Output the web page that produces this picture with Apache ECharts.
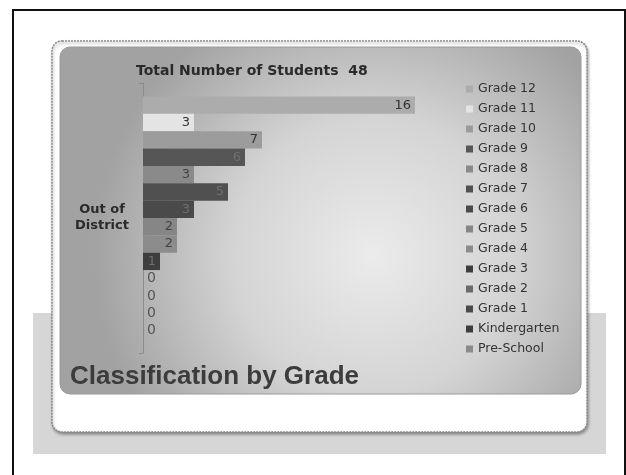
<!DOCTYPE html>
<html>
<head>
<meta charset="utf-8">
<script src="https://cdn.jsdelivr.net/npm/echarts@6/dist/echarts.min.js"></script>
<style>html,body{margin:0;padding:0;background:#fff;}#c{width:626px;height:475px;}</style>
</head>
<body>
<div id="c"></div>
<script>
// ---- data ----
const categories = ['Out of District'];
const grades = ['Grade 12','Grade 11','Grade 10','Grade 9','Grade 8','Grade 7','Grade 6',
  'Grade 5','Grade 4','Grade 3','Grade 2','Grade 1','Kindergarten','Pre-School'];
const counts = [16, 3, 7, 6, 3, 5, 3, 2, 2, 1, 0, 0, 0, 0];
const totalStudents = 48;

// ---- styles ----
const palette = ['#acacac','#e4e4e4','#9c9c9c','#565656','#8a8a8a','#505050','#4a4a4a',
  '#868686','#8c8c8c','#3e3e3e','#6a6a6a','#4a4a4a','#3c3c3c','#8a8a8a'];
const labelColors = ['#333','#333','#333','#6e6e6e','#444','#6e6e6e','#6e6e6e',
  '#444','#444','#6e6e6e','#555','#555','#555','#555'];

const chart = echarts.init(document.getElementById('c'), null, {renderer: 'canvas'});

const series = grades.map((g, i) => ({
  name: g,
  type: 'bar',
  data: [counts[i]],
  barGap: '0%',
  barCategoryGap: '10%',
  itemStyle: {color: palette[i]},
  z: 5,
  label: {
    show: true,
    position: counts[i] === 0 ? 'right' : 'insideRight',
    distance: 4,
    color: labelColors[i],
    fontFamily: 'DejaVu Sans',
    fontSize: counts[i] === 0 ? 14 : 13
  }
}));

chart.setOption({
  animation: false,
  backgroundColor: '#ffffff',
  graphic: [
    // outer black scan border
    {type: 'polyline', z: 0, shape: {points: [[13, 475], [13, 10], [625, 10], [625, 475]]},
      style: {stroke: '#111', lineWidth: 2, fill: null}},
    // halftone band
    {type: 'rect', z: 0, shape: {x: 33, y: 313, width: 573, height: 141},
      style: {fill: '#d6d6d6'}},
    // white frame
    {type: 'rect', z: 0, shape: {x: 52, y: 41, width: 535, height: 391, r: 10},
      style: {fill: '#ffffff', stroke: '#8a8a8a', lineWidth: 1.5, lineDash: [2, 1],
        shadowColor: 'rgba(0,0,0,0.35)', shadowBlur: 3, shadowOffsetX: 1, shadowOffsetY: 2}},
    // gray gradient panel
    {type: 'rect', z: 0, shape: {x: 60, y: 47, width: 521, height: 347, r: 10},
      style: {
        fill: new echarts.graphic.RadialGradient(0.6, 0.6, 0.8, [
          {offset: 0, color: '#ebebeb'},
          {offset: 0.5, color: '#d4d4d4'},
          {offset: 1, color: '#a2a2a2'}
        ]),
        stroke: '#9a9a9a', lineWidth: 1
      }},
    // slide title
    {type: 'text', z: 6, left: 70, top: 364,
      style: {text: 'Classification by Grade', fill: '#3c3c3c',
        font: 'bold 26px "Liberation Sans", Arial, sans-serif',
        shadowColor: 'rgba(255,255,255,0.6)', shadowBlur: 2, shadowOffsetX: 1, shadowOffsetY: 1}}
  ],
  title: {
    text: 'Total Number of Students  ' + totalStudents,
    left: 131, top: 59,
    textStyle: {fontFamily: 'DejaVu Sans', fontWeight: 'bold', fontSize: 14, color: '#2a2a2a'}
  },
  legend: {
    data: grades,
    orient: 'vertical',
    left: 461, top: 77,
    icon: 'rect',
    itemWidth: 7, itemHeight: 7,
    itemGap: 6,
    textStyle: {fontFamily: 'DejaVu Sans', fontSize: 12.5, color: '#333', lineHeight: 14}
  },
  grid: {left: 143, top: 83, width: 340, height: 270, containLabel: false},
  xAxis: {
    type: 'value', min: 0, max: 20,
    show: false, splitLine: {show: false}
  },
  yAxis: {
    type: 'category',
    data: categories,
    inverse: true,
    axisLine: {show: true, lineStyle: {color: '#8c8c8c', width: 1}},
    axisTick: {show: true, length: 4, lineStyle: {color: '#8c8c8c'}},
    axisLabel: {
      formatter: v => v.replace('Out of ', 'Out of\n'),
      align: 'center', margin: 41,
      fontFamily: 'DejaVu Sans', fontWeight: 'bold', fontSize: 13, color: '#2a2a2a', lineHeight: 16
    }
  },
  series: series
});
</script>
</body>
</html>
